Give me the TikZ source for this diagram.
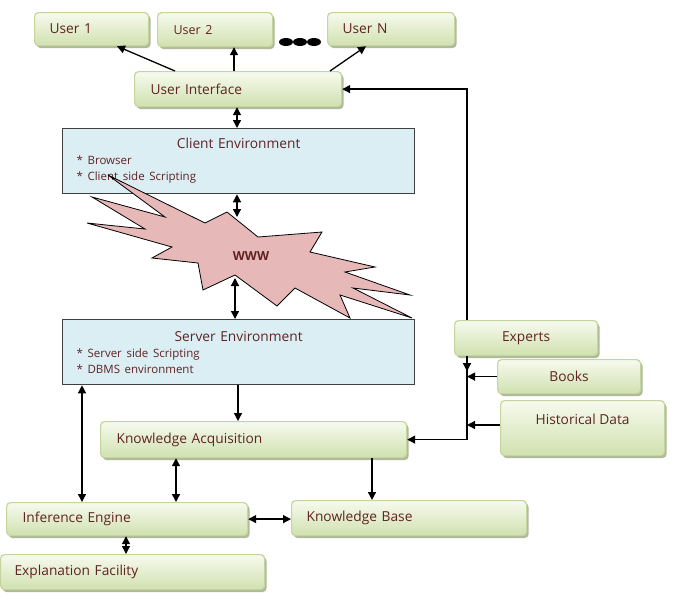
\documentclass[tikz,border=0pt]{standalone}
\usepackage{fontspec}
\setmainfont{Open Sans}
\usetikzlibrary{shadows,arrows.meta}
\definecolor{txt}{RGB}{95,35,35}
\definecolor{gborder}{RGB}{196,214,158}
\definecolor{gtop}{RGB}{247,250,238}
\definecolor{gbot}{RGB}{208,225,175}
\definecolor{gshadow}{RGB}{175,185,155}
\definecolor{bluefill}{RGB}{219,238,244}
\definecolor{starfill}{RGB}{230,184,183}
\tikzset{
  gbox/.style={draw=gborder, line width=1.2pt, rounded corners=4pt,
    top color=gtop, bottom color=gbot,
    drop shadow={shadow xshift=2pt, shadow yshift=-2.5pt, fill=gshadow, opacity=1},
    inner sep=0pt, anchor=north west, text=txt},
  bbox/.style={draw=black!75, line width=1.3pt, fill=bluefill, inner sep=0pt,
    anchor=north west, text=txt, align=left},
  arr/.style={line width=1.3pt, -{Triangle[length=8pt,width=8pt]}},
  darr/.style={line width=1.3pt, {Triangle[length=8pt,width=8pt]}-{Triangle[length=8pt,width=8pt]}},
}
\begin{document}
\begin{tikzpicture}[x=1pt,y=-1pt, font=\fontsize{13.75}{16}\selectfont]
\useasboundingbox (0,0) rectangle (700,603);

% user boxes
\node[gbox, minimum width=114pt, minimum height=33pt, text width=84pt, align=left] (u1) at (34,12) {User 1};
\node[gbox, minimum width=115pt, minimum height=34pt, text width=83pt, align=left] (u2) at (157,12) {\fontsize{12.5}{14}\selectfont User 2};
\node[gbox, minimum width=127pt, minimum height=33pt, text width=97pt, align=left] (uN) at (327,12) {User N};
\fill (286,42) ellipse (7 and 4);
\fill (300,42) ellipse (7 and 4);
\fill (314,42) ellipse (7 and 4);

\node[gbox, minimum width=207pt, minimum height=35pt, text width=175pt, align=left] (ui) at (134,71) {User Interface};

% client environment
\node[bbox, minimum width=352pt, minimum height=65pt, text width=324pt] (cl) at (62,128)
  {\fontsize{13.75}{16}\selectfont\makebox[\hsize]{Client Environment}\\
   \fontsize{11.5}{16}\selectfont {*} Browser\\{*} Client side Scripting};

% WWW explosion
\draw[line width=0.8pt, fill=starfill] (108,175) -- (205,223) -- (227,212) -- (258,237)
  -- (322,232) -- (310,252) -- (375,267) -- (345,272) -- (410,295) -- (353,288)
  -- (412,318) -- (340,295) -- (350,318) -- (295,288) -- (277,306) -- (235,275)
  -- (203,290) -- (198,263) -- (152,258) -- (172,247) -- (87,223) -- (145,229)
  -- (92,197) -- (165,217) -- cycle;
\node[text=txt, font=\fontsize{12.5}{14}\selectfont\bfseries] (www) at (251,256) {WWW};
\coordinate (wtop) at (237,217);
\coordinate (wbot) at (235,278);

% server environment
\node[bbox, minimum width=352pt, minimum height=65pt, text width=324pt] (sv) at (62,319)
  {\fontsize{13.75}{16}\selectfont\makebox[\hsize]{Server Environment}\\
   \fontsize{11.5}{16}\selectfont {*} Server side Scripting\\{*} DBMS environment};

% knowledge sources
\node[gbox, minimum width=143pt, minimum height=35pt, align=center] (exp) at (454,320) {Experts};
\node[gbox, minimum width=143pt, minimum height=34pt, align=center] (books) at (497,359) {Books};
\node[gbox, minimum width=164pt, minimum height=55pt, align=center, text depth=18pt] (hist) at (500,400) {Historical Data};

\node[gbox, minimum width=306pt, minimum height=36pt, text width=274pt, align=left] (ka) at (100,421) {Knowledge Acquisition};
\node[gbox, minimum width=241pt, minimum height=33pt, text width=209pt, align=left] (ie) at (6,502) {Inference Engine};
\node[gbox, minimum width=235pt, minimum height=35pt, text width=205pt, align=left] (kb) at (291,500) {Knowledge Base};
\node[gbox, minimum width=264pt, minimum height=35pt, text width=236pt, align=left] (ef) at (0,554) {Explanation Facility};

% connectors: users
\coordinate (a1) at ([xshift=41pt]ui.north west);
\coordinate (b1) at ([xshift=83pt]u1.south west);
\draw[arr] (a1) -- (b1);
\coordinate (b2) at ([xshift=77pt]u2.south west);
\draw[arr] (b2 |- ui.north) -- (b2);
\coordinate (a3) at ([xshift=196pt]ui.north west);
\coordinate (b3) at ([xshift=39pt]uN.south west);
\draw[arr] (a3) -- (b3);

% UI <-> client
\coordinate (c1) at ([xshift=103pt]ui.south west);
\draw[darr] (c1) -- (c1 |- cl.north);
% client <-> www
\coordinate (c2) at ([xshift=175pt]cl.south west);
\draw[darr] (c2) -- (wtop);
% www <-> server
\draw[darr] (wbot) -- (wbot |- sv.north);

% experts -> UI
\coordinate (e1) at ([xshift=13pt]exp.north west);
\draw[arr] (e1) |- (ui.east);
% experts down to junction
\coordinate (e2) at ([xshift=13pt]exp.south west);
\coordinate (j1) at ([yshift=-15pt]e2);
\draw[arr] (e2) -- (j1);
\draw[arr] ([yshift=4pt]j1) |- (ka.east);
\draw[arr] (books.west) -- (books.west -| j1);
\coordinate (h1) at ([yshift=-25pt]hist.north west);
\draw[arr] (h1) -- (h1 -| j1);

% server -> KA
\coordinate (s1) at ([xshift=176pt]sv.south west);
\draw[arr] (s1) -- (s1 |- ka.north);
% server <-> IE
\coordinate (s2) at ([xshift=20pt]sv.south west);
\draw[darr] (s2) -- (s2 |- ie.north);
% KA <-> IE
\coordinate (k1) at ([xshift=76pt]ka.south west);
\draw[darr] (k1) -- (k1 |- ie.north);
% KA -> KB
\coordinate (k2) at ([xshift=272pt]ka.south west);
\draw[arr] (k2) -- (k2 |- kb.north);
% IE <-> KB
\draw[darr] (ie.east) -- (kb.west |- ie.east);
% IE <-> EF
\coordinate (i1) at ([xshift=120pt]ie.south west);
\draw[darr] (i1) -- (i1 |- ef.north);
\end{tikzpicture}
\end{document}
